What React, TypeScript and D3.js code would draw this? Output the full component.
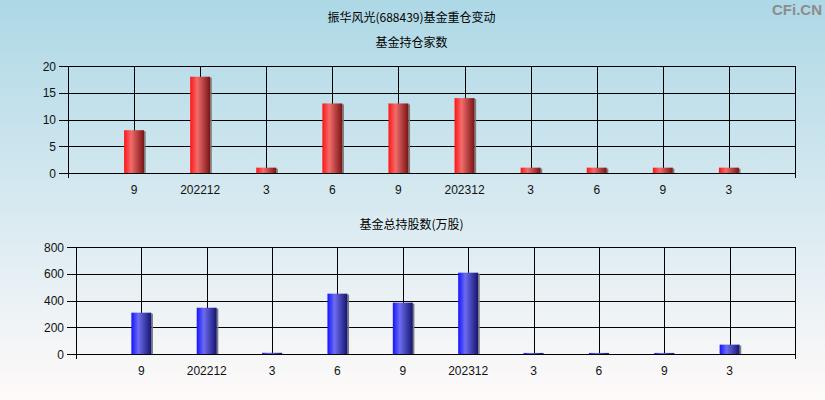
import React from 'react';
import * as d3 from 'd3';

// quarter labels under each bar
const periods = ['9', '202212', '3', '6', '9', '202312', '3', '6', '9', '3'];
// 基金持仓家数
const holderCounts = [8, 18, 1, 13, 13, 14, 1, 1, 1, 1];
// 基金总持股数(万股)
const totalShares = [309, 346, 9, 451, 384, 608, 8, 8, 8, 70];

const countTicks = [0, 5, 10, 15, 20];
const shareTicks = [0, 200, 400, 600, 800];

const W = 825;
const H = 400;
const numFont = '"Liberation Sans", Arial, sans-serif';
const cjkFont = '"Noto Sans CJK SC", sans-serif';

interface PanelProps {
  values: number[];
  ticks: number[];
  box: { left: number; right: number; top: number; bottom: number };
  gradId: string;
}

const Panel: React.FC<PanelProps> = ({ values, ticks, box, gradId }) => {
  const x = d3.scaleLinear().domain([0, periods.length + 1]).range([box.left, box.right]);
  const y = d3.scaleLinear().domain([ticks[0], ticks[ticks.length - 1]]).range([box.bottom, box.top]);
  const barW = 20;

  return (
    <g>
      {ticks.map(t => (
        <g key={'y' + t}>
          <line x1={box.left - 9} x2={box.right} y1={Math.round(y(t)) + 0.5} y2={Math.round(y(t)) + 0.5} stroke="#000" />
          <text x={box.left - 12} y={y(t) + 4.5} textAnchor="end" fontSize={12} fontFamily={numFont} fill="#111">{t}</text>
        </g>
      ))}
      {periods.map((p, i) => (
        <g key={'x' + i}>
          <line x1={Math.round(x(i + 1)) + 0.5} x2={Math.round(x(i + 1)) + 0.5} y1={box.top} y2={box.bottom} stroke="#000" />
          <text x={x(i + 1)} y={box.bottom + 21} textAnchor="middle" fontSize={12} fontFamily={numFont} fill="#111">{p}</text>
        </g>
      ))}
      <rect x={Math.round(box.left) + 0.5} y={Math.round(box.top) + 0.5} width={Math.round(box.right - box.left)} height={Math.round(box.bottom - box.top)} fill="none" stroke="#000" />
      <line x1={Math.round(box.left) + 0.5} x2={Math.round(box.left) + 0.5} y1={box.bottom} y2={box.bottom + 5} stroke="#000" />
      <line x1={Math.round(box.right) + 0.5} x2={Math.round(box.right) + 0.5} y1={box.bottom} y2={box.bottom + 5} stroke="#000" />
      {/* bars sit over the grid */}
      {values.map((v, i) => {
        const cx = x(i + 1);
        const top = y(v);
        const base = Math.round(y(0));
        return (
          <g key={'b' + i}>
            <rect x={cx + barW / 2} y={top + 1} width={1.6} height={base - top - 1} fill="#7d7d7d" />
            <rect x={cx - barW / 2} y={top} width={barW} height={base - top} fill={`url(#${gradId})`} />
          </g>
        );
      })}
    </g>
  );
};

export default function App() {
  return (
    <svg width={W} height={H} style={{ position: 'absolute', left: 0, top: 0 }}>
      <defs>
        <linearGradient id="bg" x1="0" y1="0" x2="0" y2="1">
          <stop offset="0%" stopColor="#add8e6" />
          <stop offset="100%" stopColor="#fffafa" />
        </linearGradient>
        <linearGradient id="redBar" x1="0" y1="0" x2="1" y2="0">
          <stop offset="0%" stopColor="#ff1414" />
          <stop offset="35%" stopColor="#f26c6c" />
          <stop offset="100%" stopColor="#781414" />
        </linearGradient>
        <linearGradient id="blueBar" x1="0" y1="0" x2="1" y2="0">
          <stop offset="0%" stopColor="#1414ff" />
          <stop offset="35%" stopColor="#6c6cf0" />
          <stop offset="100%" stopColor="#14146e" />
        </linearGradient>
      </defs>
      <rect width={W} height={H} fill="url(#bg)" />

      <text x={822} y={15} textAnchor="end" fontSize={15} fontWeight="bold" fontFamily='"Liberation Sans", sans-serif' fill="#8c8c8c">CFi.CN</text>

      <text x={411.5} y={22} textAnchor="middle" fontSize={12} fontFamily={cjkFont} fill="#000">振华风光(688439)基金重仓变动</text>
      <text x={411.5} y={47} textAnchor="middle" fontSize={12} fontFamily={cjkFont} fill="#000">基金持仓家数</text>
      <text x={411.5} y={229} textAnchor="middle" fontSize={12} fontFamily={cjkFont} fill="#000">基金总持股数(万股)</text>

      <Panel values={holderCounts} ticks={countTicks} box={{ left: 68, right: 795, top: 66, bottom: 173 }} gradId="redBar" />
      <Panel values={totalShares} ticks={shareTicks} box={{ left: 76, right: 795, top: 247, bottom: 354 }} gradId="blueBar" />
    </svg>
  );
}
